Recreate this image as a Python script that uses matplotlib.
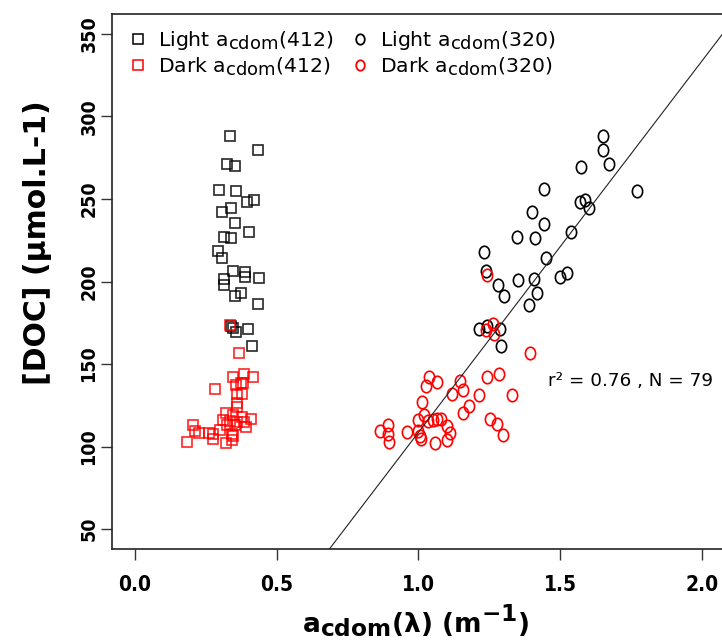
import matplotlib
matplotlib.use("Agg")
import matplotlib.pyplot as plt
from matplotlib.lines import Line2D
from matplotlib.path import Path
from matplotlib.transforms import Affine2D
import numpy as np

try:
    import matplotlib._mathtext as _mt
    _mt.SHRINK_FACTOR = 0.88
except Exception:
    pass

# ---------------- data ----------------
light412_x = [0.336, 0.434, 0.326, 0.354, 0.296, 0.357, 0.394, 0.421, 0.308, 0.338,
              0.352, 0.403, 0.314, 0.338, 0.294, 0.308, 0.346, 0.387, 0.387, 0.439,
              0.315, 0.313, 0.373, 0.352, 0.435, 0.340, 0.356, 0.398, 0.413, 0.346]
light412_y = [288.1, 279.9, 271.1, 269.7, 255.7, 255.1, 248.4, 249.2, 242.3, 244.6,
              235.2, 230.2, 227.1, 226.1, 218.6, 214.5, 206.4, 205.7, 202.6, 202.0,
              201.4, 198.1, 193.2, 191.2, 186.2, 173.0, 169.3, 171.0, 161.0, 171.8]

dark412_x = [0.334, 0.366, 0.347, 0.385, 0.417, 0.355, 0.373, 0.382, 0.282, 0.361,
             0.376, 0.359, 0.361, 0.320, 0.347, 0.376, 0.408, 0.312, 0.335, 0.359,
             0.386, 0.206, 0.392, 0.324, 0.353, 0.212, 0.227, 0.261, 0.276, 0.300,
             0.341, 0.347, 0.276, 0.321, 0.341, 0.185]
dark412_y = [173.8, 157.0, 142.4, 143.8, 142.0, 137.3, 138.7, 138.3, 134.7, 131.8,
             131.8, 126.2, 124.1, 120.5, 119.0, 118.1, 117.0, 116.4, 115.6, 115.0,
             115.0, 113.4, 111.6, 113.0, 113.0, 109.3, 108.3, 108.3, 107.9, 109.9,
             107.9, 106.3, 104.9, 102.3, 103.8, 102.9]

light320_x = [1.652, 1.652, 1.674, 1.572, 1.444, 1.770, 1.570, 1.588, 1.603, 1.400,
              1.444, 1.540, 1.347, 1.412, 1.233, 1.449, 1.237, 1.282, 1.351, 1.408,
              1.500, 1.524, 1.301, 1.420, 1.390, 1.213, 1.242, 1.287, 1.291]
light320_y = [288.0, 279.6, 271.1, 269.6, 255.8, 254.9, 248.4, 249.3, 244.3, 242.2,
              235.0, 230.0, 227.0, 226.1, 218.0, 214.5, 206.3, 198.1, 201.2, 201.7,
              202.6, 205.0, 191.1, 193.1, 186.0, 171.3, 172.8, 171.2, 161.0]

dark320_x = [1.243, 1.264, 1.239, 1.267, 1.395, 1.037, 1.027, 1.065, 1.147, 1.156,
             1.120, 1.241, 1.285, 1.331, 1.214, 1.013, 1.177, 1.158, 1.021, 0.998,
             1.035, 1.065, 1.078, 1.102, 1.113, 1.102, 1.059, 1.253, 1.277, 1.297,
             0.891, 0.866, 0.894, 0.896, 0.961, 1.000, 1.006, 1.008, 1.053]
dark320_y = [204.2, 174.2, 170.7, 168.1, 157.0, 142.4, 136.7, 138.9, 140.0, 134.2,
             131.8, 142.0, 143.8, 131.2, 131.2, 127.2, 124.8, 120.1, 119.0, 116.4,
             115.6, 116.7, 117.0, 112.2, 108.4, 103.8, 102.3, 116.5, 113.7, 106.9,
             113.4, 109.7, 107.9, 102.9, 108.7, 109.3, 106.5, 104.6, 116.0]

fit_intercept = -116.3
fit_slope = 224.9
stat_text = "r² = 0.76 , N = 79"

x_ticks = [0.0, 0.5, 1.0, 1.5, 2.0]
x_ticklabels = ["0.0", "0.5", "1.0", "1.5", "2.0"]
y_ticks = [50, 100, 150, 200, 250, 300, 350]

legend_labels = [r"Light a$_{\mathregular{cdom}}$(412)", r"Dark a$_{\mathregular{cdom}}$(412)",
                 r"Light a$_{\mathregular{cdom}}$(320)", r"Dark a$_{\mathregular{cdom}}$(320)"]

# ---------------- style ----------------
plt.rcParams['font.family'] = ['DejaVu Sans']
plt.rcParams['mathtext.default'] = 'regular'

RED = '#FF0000'
BLACK = '#000000'

ell = Path.unit_circle().transformed(Affine2D().scale(0.82, 1.0))

fig = plt.figure(figsize=(7.22, 6.44), dpi=100)
ax = fig.add_axes([0.1555, 0.1475, 0.848, 0.8307])

sq_kw = dict(ls='none', marker='s', mfc='none', ms=7.6, mew=1.2, alpha=0.85)
ci_kw = dict(ls='none', marker=ell, mfc='none', ms=9.0, mew=1.2)

ax.plot(light412_x, light412_y, mec=BLACK, **sq_kw)
ax.plot(dark412_x, dark412_y, mec=RED, **sq_kw)
ax.plot(light320_x, light320_y, mec=BLACK, **ci_kw)
ax.plot(dark320_x, dark320_y, mec=RED, **ci_kw)

ax.axline((0, fit_intercept), slope=fit_slope, color='#222222', lw=0.8)

ax.text(1.457, 140, stat_text, fontsize=13.2, va='center', ha='left')

ax.set_xlim(-0.08, 2.08)
ax.set_ylim(38, 362)
ax.set_xticks(x_ticks)
ax.set_xticklabels(x_ticklabels, fontsize=15, fontweight='bold', fontstretch='condensed')
ax.set_yticks(y_ticks)
ax.set_yticklabels([str(v) for v in y_ticks], fontsize=14, fontweight='bold',
                   fontstretch='condensed', rotation=90, va='center')
ax.tick_params(axis='both', direction='out', length=8, width=1.0, color='#333333')
ax.tick_params(axis='x', pad=11)
ax.tick_params(axis='y', pad=2)
for s in ax.spines.values():
    s.set_linewidth(1.2)
    s.set_color('#222222')

ax.set_xlabel(r"a$_{\mathregular{cdom}}$(λ) (m$^{\mathregular{-1}}$)", fontsize=19,
              fontweight='bold')
ax.xaxis.set_label_coords(0.496, -0.1)
ax.set_ylabel("[DOC] (µmol.L-1)", fontsize=21.5, fontweight='bold')
ax.yaxis.set_label_coords(-0.098, 0.572)

handles = [
    Line2D([], [], ls='none', marker='s', mfc='none', mec=BLACK, ms=6.5, mew=1.1),
    Line2D([], [], ls='none', marker='s', mfc='none', mec=RED, ms=6.5, mew=1.1),
    Line2D([], [], ls='none', marker=ell, mfc='none', mec=BLACK, ms=7.5, mew=1.3),
    Line2D([], [], ls='none', marker=ell, mfc='none', mec=RED, ms=7.5, mew=1.3),
]
ax.legend(handles, legend_labels, loc='upper left', ncol=2, frameon=False,
          fontsize=14.7, handlelength=1.0, handletextpad=0.5, columnspacing=0.8,
          labelspacing=0.15, borderaxespad=0.35, bbox_to_anchor=(0.0, 1.0))

fig.savefig("out.png", dpi=100)
